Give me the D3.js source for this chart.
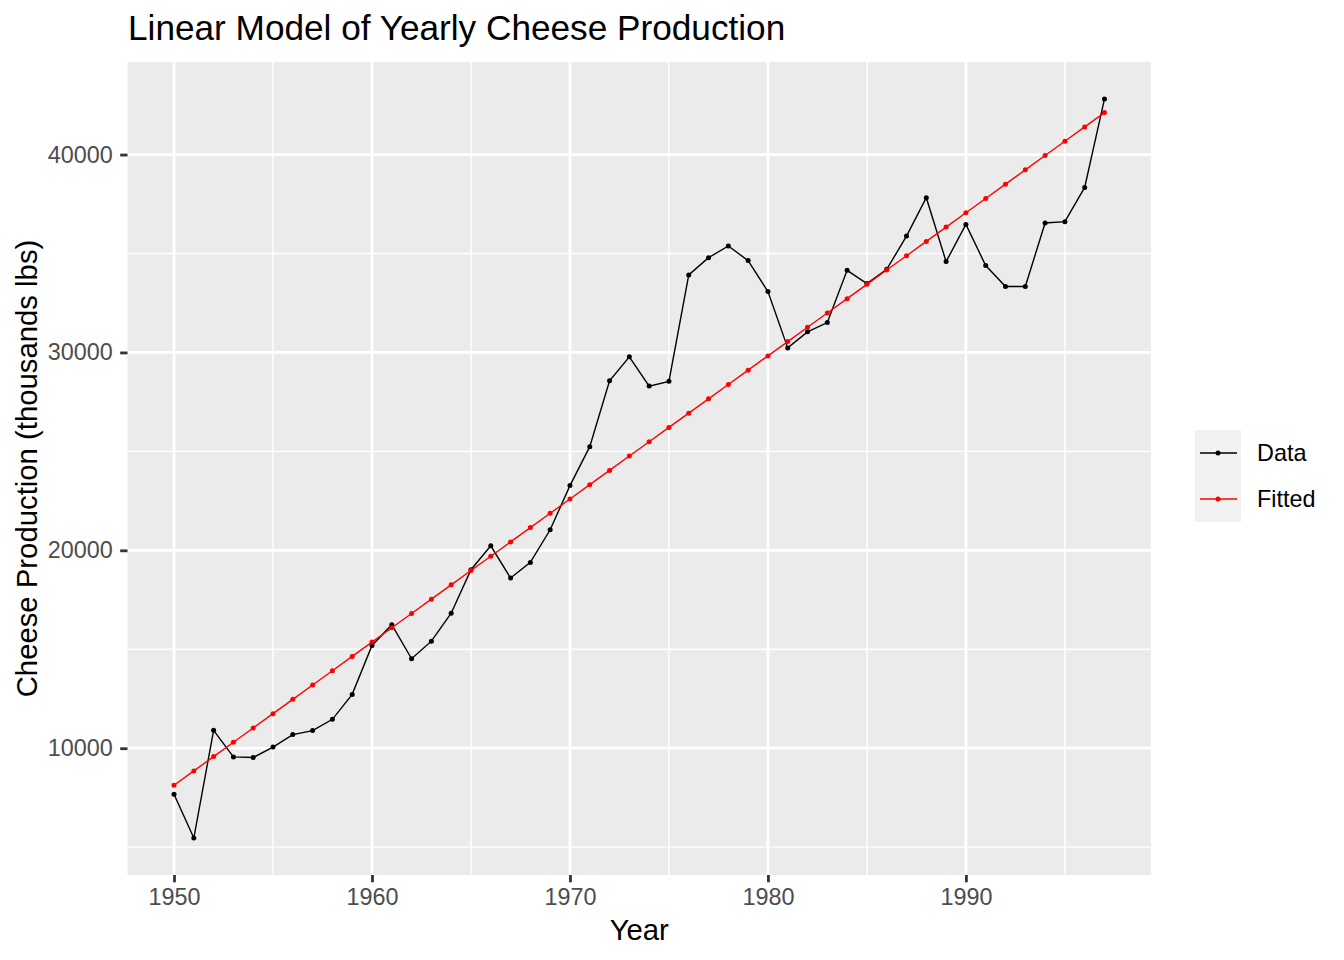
<!DOCTYPE html>
<html>
<head>
<meta charset="utf-8">
<script src="https://cdn.jsdelivr.net/npm/d3@7"></script>
<style>
  html, body { margin: 0; padding: 0; background: #fff; }
  svg { display: block; font-family: "Liberation Sans", Arial, sans-serif; }
</style>
</head>
<body>
<svg id="chart" width="1344" height="960"></svg>
<script>
const years = [1950,1951,1952,1953,1954,1955,1956,1957,1958,1959,
               1960,1961,1962,1963,1964,1965,1966,1967,1968,1969,
               1970,1971,1972,1973,1974,1975,1976,1977,1978,1979,
               1980,1981,1982,1983,1984,1985,1986,1987,1988,1989,
               1990,1991,1992,1993,1994,1995,1996,1997];
const production = [7677,5460,10903,9560,9530,10060,10690,10890,11460,12720,
                    15190,16240,14520,15410,16820,19020,20230,18600,19390,21040,
                    23270,25240,28570,29780,28300,28540,33915,34790,35380,34640,
                    33077,30230,31040,31510,34150,33480,34200,35880,37820,34590,
                    36470,34390,33330,33330,36540,36610,38340,42810];
const fitted = [8130,8853,9576,10300,11023,11746,12469,13192,13916,14639,
                15362,16085,16808,17532,18255,18978,19701,20424,21148,21871,
                22594,23317,24040,24764,25487,26210,26933,27656,28380,29103,
                29826,30549,31272,31996,32719,33442,34165,34888,35612,36335,
                37058,37781,38504,39228,39951,40674,41397,42120];
const xTicks = [1950,1960,1970,1980,1990];
const xMinor = [1955,1965,1975,1985,1995];
const yTicks = [10000,20000,30000,40000];
const yMinor = [5000,15000,25000,35000];
const seriesNames = ["Data","Fitted"];
const seriesColors = ["#000000","#FF0000"];

const svg = d3.select("#chart");
const panel = {left:127.5, right:1151, top:62, bottom:875};
const FONT = "Liberation Sans, Arial, sans-serif";

const allVals = production.concat(fitted);
const yMin = d3.min(allVals), yMax = d3.max(allVals);
const yPad = (yMax - yMin) * 0.05;
const xPad = (d3.max(years) - d3.min(years)) * 0.05;

const x = d3.scaleLinear()
  .domain([d3.min(years) - xPad, d3.max(years) + xPad])
  .range([panel.left, panel.right]);
const y = d3.scaleLinear()
  .domain([yMin - yPad, yMax + yPad])
  .range([panel.bottom, panel.top]);

// panel background
svg.append("rect")
  .attr("x", panel.left).attr("y", panel.top)
  .attr("width", panel.right - panel.left)
  .attr("height", panel.bottom - panel.top)
  .attr("fill", "#EBEBEB");

const grid = svg.append("g");
grid.selectAll(".xminor").data(xMinor).enter().append("line")
  .attr("x1", d => x(d)).attr("x2", d => x(d))
  .attr("y1", panel.top).attr("y2", panel.bottom)
  .attr("stroke", "#fff").attr("stroke-width", 1.4);
grid.selectAll(".yminor").data(yMinor).enter().append("line")
  .attr("y1", d => y(d)).attr("y2", d => y(d))
  .attr("x1", panel.left).attr("x2", panel.right)
  .attr("stroke", "#fff").attr("stroke-width", 1.4);
grid.selectAll(".xmajor").data(xTicks).enter().append("line")
  .attr("x1", d => x(d)).attr("x2", d => x(d))
  .attr("y1", panel.top).attr("y2", panel.bottom)
  .attr("stroke", "#fff").attr("stroke-width", 2.8);
grid.selectAll(".ymajor").data(yTicks).enter().append("line")
  .attr("y1", d => y(d)).attr("y2", d => y(d))
  .attr("x1", panel.left).attr("x2", panel.right)
  .attr("stroke", "#fff").attr("stroke-width", 2.8);

// axes
const xAxis = d3.axisBottom(x).tickValues(xTicks).tickFormat(d3.format("d"))
  .tickSize(7.3).tickPadding(5.9);
const gx = svg.append("g").attr("transform", `translate(0,${panel.bottom})`).call(xAxis);
gx.select(".domain").remove();
gx.selectAll(".tick line").attr("stroke", "#333333").attr("stroke-width", 2.8);
gx.selectAll(".tick text").attr("fill", "#4D4D4D").style("font-size", "23.4px")
  .style("font-family", FONT);

const yAxis = d3.axisLeft(y).tickValues(yTicks).tickFormat(d3.format("d"))
  .tickSize(7.3).tickPadding(7.5);
const gy = svg.append("g").attr("transform", `translate(${panel.left},0)`).call(yAxis);
gy.select(".domain").remove();
gy.selectAll(".tick line").attr("stroke", "#333333").attr("stroke-width", 2.8);
gy.selectAll(".tick text").attr("fill", "#4D4D4D").style("font-size", "23.4px")
  .style("font-family", FONT);

// series
const line = d3.line().x((d, i) => x(years[i])).y(d => y(d));
const seriesData = [production, fitted];
seriesData.forEach((vals, s) => {
  const g = svg.append("g");
  g.append("path").datum(vals)
    .attr("d", line).attr("fill", "none")
    .attr("stroke", seriesColors[s]).attr("stroke-width", 1.4);
  g.selectAll("circle").data(vals).enter().append("circle")
    .attr("cx", (d, i) => x(years[i])).attr("cy", d => y(d))
    .attr("r", 2.5).attr("fill", seriesColors[s]);
});

// titles
svg.append("text").attr("x", 128).attr("y", 40)
  .attr("fill", "#000").style("font-size", "35.2px").style("font-family", FONT)
  .text("Linear Model of Yearly Cheese Production");
svg.append("text").attr("x", (panel.left + panel.right) / 2).attr("y", 940)
  .attr("text-anchor", "middle").attr("fill", "#000").style("font-size", "29.3px")
  .style("font-family", FONT)
  .text("Year");
svg.append("text")
  .attr("transform", `translate(37,${(panel.top + panel.bottom) / 2}) rotate(-90)`)
  .attr("text-anchor", "middle").attr("fill", "#000").style("font-size", "29.3px")
  .style("font-family", FONT)
  .text("Cheese Production (thousands lbs)");

// legend
const legend = svg.append("g").attr("transform", "translate(1195,430)");
const keyH = 46, keyW = 46;
seriesNames.forEach((name, i) => {
  const gy0 = i * keyH;
  legend.append("rect").attr("x", 0).attr("y", gy0).attr("width", keyW).attr("height", keyH)
    .attr("fill", "#F2F2F2");
  legend.append("line").attr("x1", 5).attr("x2", keyW - 4)
    .attr("y1", gy0 + keyH / 2).attr("y2", gy0 + keyH / 2)
    .attr("stroke", seriesColors[i]).attr("stroke-width", 1.4);
  legend.append("circle").attr("cx", keyW / 2).attr("cy", gy0 + keyH / 2).attr("r", 2.5)
    .attr("fill", seriesColors[i]);
  legend.append("text").attr("x", keyW + 16).attr("y", gy0 + keyH / 2)
    .attr("dy", "0.35em").attr("fill", "#000").style("font-size", "23.4px")
    .style("font-family", FONT)
    .text(name);
});
</script>
</body>
</html>
